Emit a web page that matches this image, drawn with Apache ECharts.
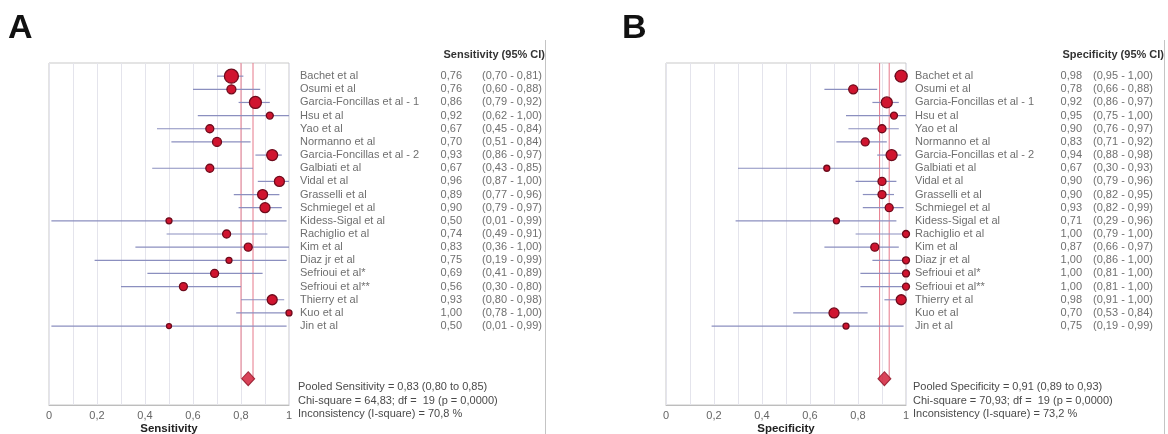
<!DOCTYPE html>
<html>
<head>
<meta charset="utf-8">
<script src="https://cdn.jsdelivr.net/npm/echarts@6/dist/echarts.min.js"></script>
<style>
  html, body { margin: 0; padding: 0; background: #fff; }
  #chart { width: 1168px; height: 434px; }
</style>
</head>
<body>
<div id="chart"></div>
<script>
// Study labels (same order in both forest plots)
const studies = [
  'Bachet et al', 'Osumi et al', 'Garcia-Foncillas et al - 1', 'Hsu et al', 'Yao et al',
  'Normanno et al', 'Garcia-Foncillas et al - 2', 'Galbiati et al', 'Vidal et al', 'Grasselli et al',
  'Schmiegel et al', 'Kidess-Sigal et al', 'Rachiglio et al', 'Kim et al', 'Diaz jr et al',
  'Sefrioui et al*', 'Sefrioui et al**', 'Thierry et al', 'Kuo et al', 'Jin et al'
];

// Sensitivity estimates with 95% CI
const sensEst = [0.76, 0.76, 0.86, 0.92, 0.67, 0.70, 0.93, 0.67, 0.96, 0.89, 0.90, 0.50, 0.74, 0.83, 0.75, 0.69, 0.56, 0.93, 1.00, 0.50];
const sensLo  = [0.70, 0.60, 0.79, 0.62, 0.45, 0.51, 0.86, 0.43, 0.87, 0.77, 0.79, 0.01, 0.49, 0.36, 0.19, 0.41, 0.30, 0.80, 0.78, 0.01];
const sensHi  = [0.81, 0.88, 0.92, 1.00, 0.84, 0.84, 0.97, 0.85, 1.00, 0.96, 0.97, 0.99, 0.91, 1.00, 0.99, 0.89, 0.80, 0.98, 1.00, 0.99];
const sensWeight = [14, 9, 12, 7, 8, 9, 11, 8, 10, 10, 10, 6, 8, 8, 6, 8, 8, 10, 6, 5];
const sensPooled = [0.83, 0.80, 0.85];
const sensStats = ['Pooled Sensitivity = 0,83 (0,80 to 0,85)', 'Chi-square = 64,83; df =  19 (p = 0,0000)', 'Inconsistency (I-square) = 70,8 %'];

// Specificity estimates with 95% CI
const specEst = [0.98, 0.78, 0.92, 0.95, 0.90, 0.83, 0.94, 0.67, 0.90, 0.90, 0.93, 0.71, 1.00, 0.87, 1.00, 1.00, 1.00, 0.98, 0.70, 0.75];
const specLo  = [0.95, 0.66, 0.86, 0.75, 0.76, 0.71, 0.88, 0.30, 0.79, 0.82, 0.82, 0.29, 0.79, 0.66, 0.86, 0.81, 0.81, 0.91, 0.53, 0.19];
const specHi  = [1.00, 0.88, 0.97, 1.00, 0.97, 0.92, 0.98, 0.93, 0.96, 0.95, 0.99, 0.96, 1.00, 0.97, 1.00, 1.00, 1.00, 1.00, 0.84, 0.99];
const specWeight = [12, 9, 11, 7, 8, 8, 11, 6, 8, 8, 8, 6, 7, 8, 7, 7, 7, 10, 10, 6];
const specPooled = [0.91, 0.89, 0.93];
const specStats = ['Pooled Specificity = 0,91 (0,89 to 0,93)', 'Chi-square = 70,93; df =  19 (p = 0,0000)', 'Inconsistency (I-square) = 73,2 %'];

const FONT = "'Liberation Sans', Arial, sans-serif";
const TXT = '#4a4a4a';
const POOLED_ROW = 23;
const fmt = v => v.toFixed(2).replace('.', ',');
const tickFmt = v => String(v).replace('.', ',');

const chart = echarts.init(document.getElementById('chart'), null, { renderer: 'canvas' });

const plotTop = 63, plotH = 342;
const panels = [
  { plotLeft: 49, textLeft: 300, textW: 245, valX: 162, ciX: 182, border: 545,
    est: sensEst, lo: sensLo, hi: sensHi, w: sensWeight, pooled: sensPooled, stats: sensStats,
    axisName: 'Sensitivity', header: 'Sensitivity (95% CI)', letter: 'A', letterX: 8 },
  { plotLeft: 666, textLeft: 915, textW: 250, valX: 167, ciX: 178, border: 1164,
    est: specEst, lo: specLo, hi: specHi, w: specWeight, pooled: specPooled, stats: specStats,
    axisName: 'Specificity', header: 'Specificity (95% CI)', letter: 'B', letterX: 622 }
];

const grid = [], xAxis = [], yAxis = [], series = [], graphic = [];

panels.forEach((p, k) => {
  const gPlot = k * 2, gText = k * 2 + 1;
  grid.push({ left: p.plotLeft, top: plotTop, width: 240, height: plotH, show: true,
              borderColor: '#c9c9c9', borderWidth: 1, backgroundColor: 'transparent',
              containLabel: false, outerBoundsMode: 'none' });
  grid.push({ left: p.textLeft, top: plotTop, width: p.textW, height: plotH, show: false,
              containLabel: false, outerBoundsMode: 'none' });

  xAxis.push({
    gridIndex: gPlot, type: 'value', min: 0, max: 1, interval: 0.2,
    name: p.axisName, nameLocation: 'middle', nameGap: 18, nameMoveOverlap: false,
    nameTextStyle: { fontFamily: FONT, fontSize: 11.5, fontWeight: 'bold', color: '#222',
                     verticalAlign: 'top' },
    axisLine: { show: true, onZero: false, lineStyle: { color: '#bdbdbd' } },
    axisTick: { show: false },
    minorTick: { show: false, splitNumber: 2 },
    axisLabel: { fontFamily: FONT, fontSize: 11, color: '#666', margin: 5, formatter: tickFmt },
    splitLine: { show: true, lineStyle: { color: '#e4e4ec', width: 1 } },
    minorSplitLine: { show: true, lineStyle: { color: '#e4e4ec', width: 1 } }
  });
  xAxis.push({ gridIndex: gText, type: 'value', min: 0, max: p.textW, show: false });

  [gPlot, gText].forEach(g => yAxis.push({
    gridIndex: g, type: 'value', min: -1, max: 25, inverse: true, show: false
  }));

  const rows = studies.map((_, i) => i);

  // pooled confidence bounds as vertical reference lines
  series.push({
    type: 'custom', xAxisIndex: gPlot, yAxisIndex: gPlot, silent: true, z: 2,
    data: [[p.pooled[1]], [p.pooled[2]]],
    renderItem: (params, api) => {
      const a = api.coord([api.value(0), -1]);
      const b = api.coord([api.value(0), POOLED_ROW]);
      return { type: 'line', shape: { x1: a[0], y1: a[1], x2: b[0], y2: b[1] },
               style: { stroke: '#e6798a', lineWidth: 1 } };
    }
  });

  // study confidence intervals
  series.push({
    type: 'custom', xAxisIndex: gPlot, yAxisIndex: gPlot, silent: true, z: 3,
    data: rows.map(i => [p.lo[i], p.hi[i], i]),
    renderItem: (params, api) => {
      const a = api.coord([api.value(0), api.value(2)]);
      const b = api.coord([api.value(1), api.value(2)]);
      return { type: 'line', shape: { x1: a[0], y1: a[1], x2: b[0], y2: b[1] },
               style: { stroke: '#8b8fbf', lineWidth: 1.2 } };
    }
  });

  // study point estimates, sized by weight
  series.push({
    type: 'scatter', xAxisIndex: gPlot, yAxisIndex: gPlot, silent: true, z: 4,
    data: rows.map(i => ({ value: [p.est[i], i], symbolSize: p.w[i] })),
    itemStyle: { color: '#d0142f', borderColor: '#6e0b1c', borderWidth: 1.3, opacity: 1 }
  });

  // pooled estimate
  series.push({
    type: 'scatter', xAxisIndex: gPlot, yAxisIndex: gPlot, silent: true, z: 4,
    symbol: 'diamond', symbolSize: [13, 14],
    data: [[p.pooled[0], POOLED_ROW]],
    itemStyle: { color: '#d0142f', borderColor: '#8a0f22', borderWidth: 1 }
  });

  // table columns: study name, estimate, CI
  const labelBase = { show: true, fontFamily: FONT, fontSize: 11, color: TXT, distance: 0 };
  series.push({
    type: 'scatter', xAxisIndex: gText, yAxisIndex: gText, silent: true, symbolSize: 0,
    data: rows.map(i => [0, i]),
    label: Object.assign({}, labelBase, { position: 'right', formatter: d => studies[d.dataIndex] })
  });
  series.push({
    type: 'scatter', xAxisIndex: gText, yAxisIndex: gText, silent: true, symbolSize: 0,
    data: rows.map(i => [p.valX, i]),
    label: Object.assign({}, labelBase, { position: 'left', formatter: d => fmt(p.est[d.dataIndex]) })
  });
  series.push({
    type: 'scatter', xAxisIndex: gText, yAxisIndex: gText, silent: true, symbolSize: 0,
    data: rows.map(i => [p.ciX, i]),
    label: Object.assign({}, labelBase, { position: 'right',
      formatter: d => '(' + fmt(p.lo[d.dataIndex]) + ' - ' + fmt(p.hi[d.dataIndex]) + ')' })
  });

  // panel letter, column header, summary statistics, panel edge
  graphic.push({ type: 'text', left: p.letterX, top: 12,
    style: { text: p.letter, font: 'bold 34px ' + FONT, fill: '#111' } });
  graphic.push({ type: 'text', x: p.border, y: 55,
    style: { text: p.header, font: 'bold 11px ' + FONT, fill: '#333', align: 'right', verticalAlign: 'middle' } });
  p.stats.forEach((s, j) => graphic.push({ type: 'text', x: p.textLeft - 2, y: 387 + j * 13.5,
    style: { text: s, font: '11px ' + FONT, fill: TXT, verticalAlign: 'middle' } }));
  graphic.push({ type: 'line', z: 10, shape: { x1: p.border + 0.5, y1: 40, x2: p.border + 0.5, y2: 434 },
    style: { stroke: '#c4c4c4', lineWidth: 1 } });
});

chart.setOption({
  animation: false,
  backgroundColor: '#ffffff',
  grid, xAxis, yAxis, series, graphic
});
</script>
</body>
</html>
